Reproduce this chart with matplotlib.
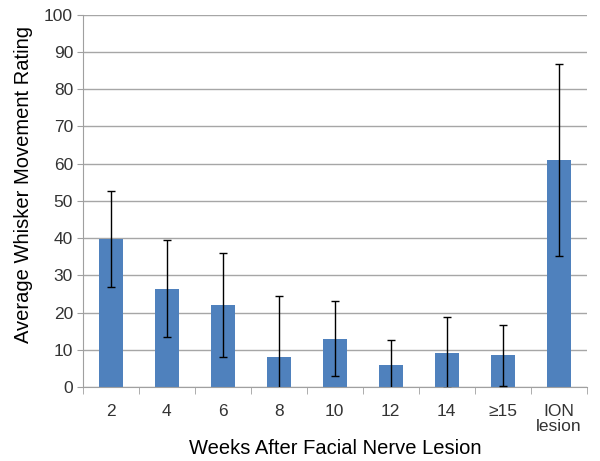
import numpy as np
import matplotlib.pyplot as plt

plt.rcParams['font.family'] = ['Liberation Sans', 'DejaVu Sans']

categories = ['2', '4', '6', '8', '10', '12', '14', '\u226515', 'ION\nlesion']
means = [39.8, 26.4, 22.0, 8.0, 13.0, 5.8, 9.2, 8.5, 61.0]
errors = [12.9, 13.0, 14.0, 16.4, 10.0, 6.8, 9.5, 8.1, 25.7]

x = np.arange(len(categories))

fig = plt.figure(figsize=(6, 4.61), dpi=100)
ax = fig.add_axes([0.138, 0.1605, 0.84, 0.8075])

ax.bar(x, means, width=0.42, color='#4F81BD', zorder=2)
ax.errorbar(x, means, yerr=errors, fmt='none', ecolor='black', elinewidth=1,
            capsize=3, capthick=1, zorder=3)

ax.set_xlim(-0.5, len(categories) - 0.5)
ax.set_ylim(0, 100)
ax.set_yticks(np.arange(0, 101, 10))
ax.yaxis.grid(True, color='#A6A6A6', linewidth=1)
ax.set_axisbelow(True)

ax.set_xticks(x)
ax.set_xticklabels(categories, fontsize=12.5, color='#333333', linespacing=1.0)
ax.set_xticks(np.arange(-0.5, len(categories)), minor=True)
ax.tick_params(axis='x', which='major', length=0, pad=12)
ax.tick_params(axis='x', which='minor', length=5, color='#A0A0A0', direction='out')
ax.tick_params(axis='y', labelsize=12.5, labelcolor='#333333', length=4,
               color='#A0A0A0', direction='out', pad=3)

for side in ['top', 'right']:
    ax.spines[side].set_visible(False)
for side in ['left', 'bottom']:
    ax.spines[side].set_color('#A0A0A0')

ax.set_xlabel('Weeks After Facial Nerve Lesion', fontsize=14.5, labelpad=4)
ax.set_ylabel('Average Whisker Movement Rating', fontsize=14.5, labelpad=8)
ax.yaxis.label.set_y(0.543)

fig.savefig('out.png', dpi=100)
